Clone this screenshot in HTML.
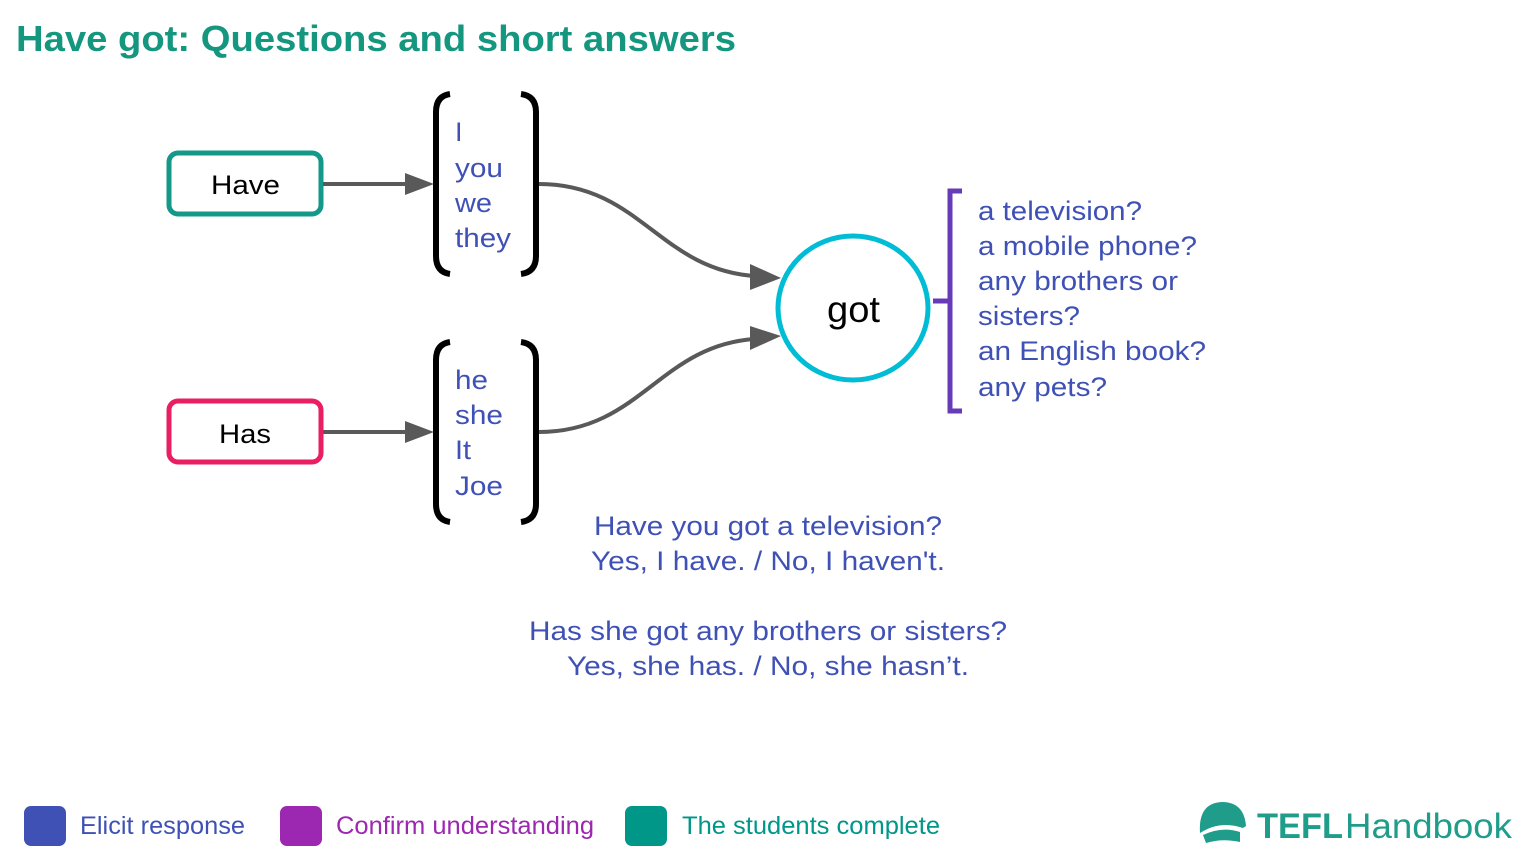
<!DOCTYPE html>
<html><head><meta charset="utf-8"><style>
html,body{margin:0;padding:0;background:#fff;}
svg{display:block;}
text{font-family:"Liberation Sans",Arial,sans-serif;}
</style></head><body>
<svg width="1536" height="864" viewBox="0 0 1536 864" xmlns="http://www.w3.org/2000/svg">
<text x="16" y="51" font-size="36" font-weight="bold" fill="#14967f" textLength="720" lengthAdjust="spacingAndGlyphs">Have got: Questions and short answers</text>

<rect x="169" y="153" width="152" height="61" rx="9" fill="#fff" stroke="#13998a" stroke-width="5"/>
<text x="211" y="194" font-size="27" fill="#000" textLength="69" lengthAdjust="spacingAndGlyphs">Have</text>
<rect x="169" y="401" width="152" height="61" rx="9" fill="#fff" stroke="#e91e63" stroke-width="5"/>
<text x="219" y="443" font-size="27" fill="#000" textLength="52" lengthAdjust="spacingAndGlyphs">Has</text>

<line x1="323" y1="184" x2="408" y2="184" stroke="#595959" stroke-width="4"/>
<polygon points="405,173 434,184 405,195" fill="#595959"/>
<line x1="323" y1="432" x2="408" y2="432" stroke="#595959" stroke-width="4"/>
<polygon points="405,421 434,432 405,443" fill="#595959"/>

<g fill="none" stroke="#000" stroke-width="6">
<path d="M450,94 Q436,96 436,112 L436,256 Q436,272 450,274"/>
<path d="M521,94 Q536,96 536,112 L536,256 Q536,272 521,274"/>
<path d="M450,342 Q436,344 436,360 L436,504 Q436,520 450,522"/>
<path d="M521,342 Q536,344 536,360 L536,504 Q536,520 521,522"/>
</g>
<g font-size="27" fill="#3f51b5" lengthAdjust="spacingAndGlyphs">
<text x="455" y="141">I</text>
<text x="455" y="177" textLength="48" lengthAdjust="spacingAndGlyphs">you</text>
<text x="455" y="212" textLength="37" lengthAdjust="spacingAndGlyphs">we</text>
<text x="455" y="247" textLength="56" lengthAdjust="spacingAndGlyphs">they</text>
<text x="455" y="389" textLength="33" lengthAdjust="spacingAndGlyphs">he</text>
<text x="455" y="424" textLength="48" lengthAdjust="spacingAndGlyphs">she</text>
<text x="455" y="459" textLength="16" lengthAdjust="spacingAndGlyphs">It</text>
<text x="455" y="495" textLength="48" lengthAdjust="spacingAndGlyphs">Joe</text>
</g>

<path d="M539,184 C640,184 660,270 755,276" fill="none" stroke="#595959" stroke-width="4"/>
<polygon points="750,264 781,278 750,290" fill="#595959"/>
<path d="M539,432 C640,432 660,345 755,339" fill="none" stroke="#595959" stroke-width="4"/>
<polygon points="750,326 781,336 750,350" fill="#595959"/>

<ellipse cx="853" cy="308" rx="75" ry="72" fill="#fff" stroke="#00bcd4" stroke-width="5"/>
<text x="827" y="322" font-size="37" fill="#000" textLength="53" lengthAdjust="spacingAndGlyphs">got</text>

<path d="M962,191 L950,191 L950,411 L962,411 M933,301 L950,301" fill="none" stroke="#673ab7" stroke-width="5"/>
<g font-size="27" fill="#3f51b5">
<text x="978" y="220" textLength="164" lengthAdjust="spacingAndGlyphs">a television?</text>
<text x="978" y="255" textLength="219" lengthAdjust="spacingAndGlyphs">a mobile phone?</text>
<text x="978" y="290" textLength="200" lengthAdjust="spacingAndGlyphs">any brothers or</text>
<text x="978" y="325" textLength="102" lengthAdjust="spacingAndGlyphs">sisters?</text>
<text x="978" y="360" textLength="228" lengthAdjust="spacingAndGlyphs">an English book?</text>
<text x="978" y="396" textLength="129" lengthAdjust="spacingAndGlyphs">any pets?</text>
</g>

<g font-size="27" fill="#3f51b5">
<text x="594" y="535" textLength="348" lengthAdjust="spacingAndGlyphs">Have you got a television?</text>
<text x="591" y="570" textLength="354" lengthAdjust="spacingAndGlyphs">Yes, I have. / No, I haven't.</text>
<text x="529" y="640" textLength="478" lengthAdjust="spacingAndGlyphs">Has she got any brothers or sisters?</text>
<text x="567" y="675" textLength="402" lengthAdjust="spacingAndGlyphs">Yes, she has. / No, she hasn’t.</text>
</g>

<rect x="24" y="806" width="42" height="40" rx="7" fill="#3f51b5"/>
<text x="80" y="834" font-size="25" fill="#3f51b5" textLength="165" lengthAdjust="spacingAndGlyphs">Elicit response</text>
<rect x="280" y="806" width="42" height="40" rx="7" fill="#9c27b0"/>
<text x="336" y="834" font-size="25" fill="#9c27b0" textLength="258" lengthAdjust="spacingAndGlyphs">Confirm understanding</text>
<rect x="625" y="806" width="42" height="40" rx="7" fill="#009688"/>
<text x="682" y="834" font-size="25" fill="#009688" textLength="258" lengthAdjust="spacingAndGlyphs">The students complete</text>

<path d="M1200,833 Q1198,803 1222,802 Q1244,802 1246,826 L1243,828 Q1220,820 1200,833 Z" fill="#1f9c8a"/>
<path d="M1203,835 Q1222,826 1240,832 L1240,842 Q1222,838 1206,843 Z" fill="#1f9c8a"/>
<text x="1257" y="838" font-size="35" font-weight="bold" fill="#1f9c8a" textLength="86" lengthAdjust="spacingAndGlyphs">TEFL</text>
<text x="1345" y="838" font-size="35" fill="#1f9c8a" textLength="167" lengthAdjust="spacingAndGlyphs">Handbook</text>
</svg>
</body></html>
